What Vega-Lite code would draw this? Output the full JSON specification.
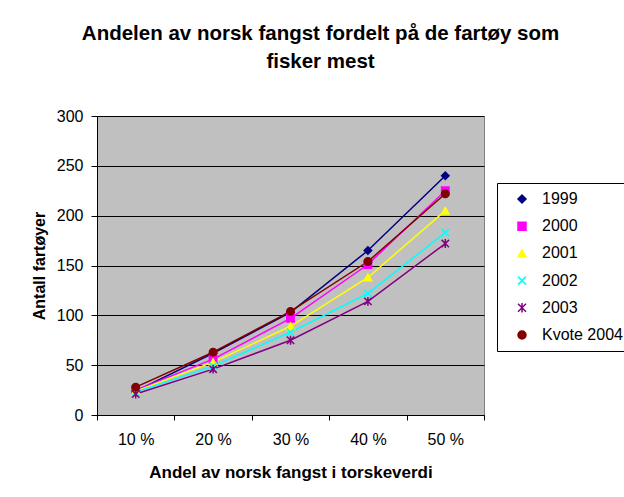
{
  "$schema": "https://vega.github.io/schema/vega-lite/v6.json",
  "autosize": {"type": "none"},
  "width": 387,
  "height": 299,
  "padding": {"left": 97, "top": 116, "right": 140, "bottom": 82},
  "background": "white",
  "title": {
    "text": ["Andelen av norsk fangst  fordelt på de fartøy som", "fisker mest"],
    "font": "Liberation Sans",
    "fontSize": 20.5,
    "fontWeight": "bold",
    "lineHeight": 28,
    "anchor": "middle",
    "dx": 30,
    "offset": 36,
    "color": "black"
  },
  "config": {
    "view": {"fill": "#c0c0c0", "stroke": "#808080", "strokeWidth": 1},
    "axis": {"labelFont": "Liberation Sans", "titleFont": "Liberation Sans", "labelColor": "black", "titleColor": "black", "domainColor": "black", "tickColor": "black"}
  },
  "data": {
    "values": [
      {"Andel": "10 %", "Serie": "1999", "Antall": 24},
      {"Andel": "20 %", "Serie": "1999", "Antall": 62},
      {"Andel": "30 %", "Serie": "1999", "Antall": 103},
      {"Andel": "40 %", "Serie": "1999", "Antall": 165},
      {"Andel": "50 %", "Serie": "1999", "Antall": 240},
      {"Andel": "10 %", "Serie": "2000", "Antall": 25},
      {"Andel": "20 %", "Serie": "2000", "Antall": 56},
      {"Andel": "30 %", "Serie": "2000", "Antall": 97},
      {"Andel": "40 %", "Serie": "2000", "Antall": 151},
      {"Andel": "50 %", "Serie": "2000", "Antall": 225},
      {"Andel": "10 %", "Serie": "2001", "Antall": 24},
      {"Andel": "20 %", "Serie": "2001", "Antall": 53},
      {"Andel": "30 %", "Serie": "2001", "Antall": 89},
      {"Andel": "40 %", "Serie": "2001", "Antall": 138},
      {"Andel": "50 %", "Serie": "2001", "Antall": 205},
      {"Andel": "10 %", "Serie": "2002", "Antall": 23},
      {"Andel": "20 %", "Serie": "2002", "Antall": 49},
      {"Andel": "30 %", "Serie": "2002", "Antall": 83},
      {"Andel": "40 %", "Serie": "2002", "Antall": 122},
      {"Andel": "50 %", "Serie": "2002", "Antall": 183},
      {"Andel": "10 %", "Serie": "2003", "Antall": 21},
      {"Andel": "20 %", "Serie": "2003", "Antall": 46},
      {"Andel": "30 %", "Serie": "2003", "Antall": 75},
      {"Andel": "40 %", "Serie": "2003", "Antall": 114},
      {"Andel": "50 %", "Serie": "2003", "Antall": 172},
      {"Andel": "10 %", "Serie": "Kvote 2004", "Antall": 28},
      {"Andel": "20 %", "Serie": "Kvote 2004", "Antall": 63},
      {"Andel": "30 %", "Serie": "Kvote 2004", "Antall": 104},
      {"Andel": "40 %", "Serie": "Kvote 2004", "Antall": 154},
      {"Andel": "50 %", "Serie": "Kvote 2004", "Antall": 222}
    ]
  },
  "encoding": {
    "x": {
      "field": "Andel", "type": "ordinal",
      "scale": {"type": "band", "paddingInner": 0, "paddingOuter": 0},
      "axis": {
        "title": "Andel av norsk fangst i torskeverdi",
        "titleFontSize": 17, "titleFontWeight": "bold", "titlePadding": 17,
        "labelFontSize": 16, "labelAngle": 0, "labelPadding": 11,
        "tickBand": "extent", "tickSize": 5, "grid": false
      }
    },
    "y": {
      "field": "Antall", "type": "quantitative",
      "scale": {"domain": [0, 300]},
      "axis": {
        "title": "Antall fartøyer",
        "values": [0, 50, 100, 150, 200, 250, 300],
        "titleFontSize": 16, "titleFontWeight": "bold", "titlePadding": 9,
        "labelFontSize": 16, "labelPadding": 8, "tickSize": 6,
        "grid": true, "gridColor": "black", "gridOpacity": 1, "gridWidth": 1
      }
    },
    "color": {
      "field": "Serie", "type": "nominal",
      "scale": {"domain": ["1999", "2000", "2001", "2002", "2003", "Kvote 2004"],
                "range": ["#000080", "#ff00ff", "#ffff00", "#00ffff", "#800080", "#800000"]},
      "legend": {
        "title": null,
        "orient": "none",
        "legendX": 400,
        "legendY": 67,
        "fillColor": "white",
        "strokeColor": "black",
        "padding": 8,
        "labelFont": "Liberation Sans",
        "labelFontSize": 16,
        "labelColor": "black",
        "symbolSize": 64,
        "symbolOffset": 9,
        "labelOffset": 12,
        "rowPadding": 11.2,
        "symbolOpacity": 1,
        "symbolStrokeWidth": 1.5
      }
    }
  },
  "layer": [
    {
      "mark": {"type": "line", "strokeWidth": 1.5}
    },
    {
      "mark": {"type": "point", "filled": true, "opacity": 1, "size": 55, "strokeWidth": 1.5},
      "encoding": {
        "shape": {
          "field": "Serie", "type": "nominal",
          "scale": {"domain": ["1999", "2000", "2001", "2002", "2003", "Kvote 2004"],
                    "range": ["diamond", "square", "triangle-up", "M-1,-1L1,1M-1,1L1,-1", "M-1,-1L1,1M-1,1L1,-1M0,-1.2V1.2", "circle"]},
          "legend": null
        },
        "stroke": {
          "field": "Serie", "type": "nominal",
          "scale": {"domain": ["1999", "2000", "2001", "2002", "2003", "Kvote 2004"],
                    "range": ["#000080", "#ff00ff", "#ffff00", "#00ffff", "#800080", "#800000"]},
          "legend": null
        }
      }
    }
  ]
}
